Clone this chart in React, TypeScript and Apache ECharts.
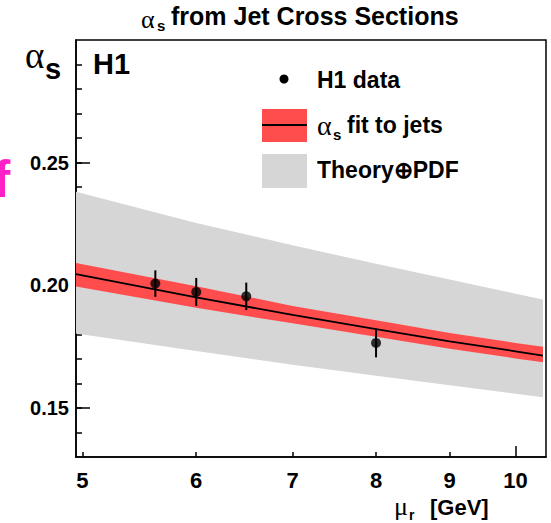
import React, { useEffect, useRef } from "react";
import * as echarts from "echarts";

// H1 data points
const muData = [5.62, 6.0, 6.5, 8.0];
const alphaData = [0.2007, 0.1973, 0.1955, 0.1765];
const alphaErr = [0.0054, 0.0057, 0.0056, 0.0059];

// curves (read at several mu values)
const curveMu = [4.95, 6, 7, 8, 9, 10, 10.45];
const fitCentral = [0.2046, 0.1951, 0.1879, 0.1821, 0.1771, 0.1731, 0.1713];
const fitUpper = [0.2091, 0.1996, 0.1916, 0.1858, 0.1806, 0.1765, 0.1749];
const fitLower = [0.1995, 0.1908, 0.1845, 0.1790, 0.1741, 0.1702, 0.1686];
const theoryUpper = [0.2381, 0.2254, 0.2163, 0.2088, 0.2024, 0.1966, 0.1942];
const theoryLower = [0.1803, 0.1732, 0.1676, 0.1631, 0.1592, 0.1558, 0.1544];

// ticks
const xTickLabels = [5, 6, 7, 8, 9, 10];
const xMinorTicks = [5, 6, 7, 8, 9];
const xMajorTicks = [10];
const yTickLabels = [0.15, 0.2, 0.25];
const yMinorTicks = [0.14, 0.15, 0.16, 0.17, 0.18, 0.19, 0.2, 0.21, 0.22, 0.23, 0.24, 0.25, 0.26, 0.27, 0.28, 0.29];

const SANS = "Liberation Sans, Arial, Helvetica, sans-serif";
const SERIF = "Liberation Serif, DejaVu Serif, serif";
const RED = "#ff4d4d";
const GRAY = "#d6d6d6";

function bandRenderer(upper: number[], lower: number[], color: string) {
  return (params: any, api: any) => {
    if (params.dataIndex !== 0) return null;
    const pts: number[][] = [];
    for (let i = 0; i < curveMu.length; i++) pts.push(api.coord([curveMu[i], upper[i]]));
    for (let i = curveMu.length - 1; i >= 0; i--) pts.push(api.coord([curveMu[i], lower[i]]));
    return { type: "polygon", shape: { points: pts }, style: { fill: color }, silent: true };
  };
}

export default function App() {
  const ref = useRef<HTMLDivElement>(null);
  useEffect(() => {
    document.body.style.margin = "0";
    const chart = echarts.init(ref.current!, null, { renderer: "svg" });
    const xBase = { type: "log", logBase: 10, min: 4.95, max: 10.5, gridIndex: 0, position: "bottom", splitLine: { show: false } };
    const yBase = { type: "value", min: 0.13, max: 0.3, gridIndex: 0, position: "left", splitLine: { show: false } };
    const option: any = {
      animation: false,
      backgroundColor: "#fff",
      grid: { left: 76, right: 5, top: 40, bottom: 66, show: true, borderColor: "#000", borderWidth: 1.5, backgroundColor: "transparent" },
      xAxis: [
        {
          ...xBase,
          axisLine: { show: true, lineStyle: { color: "#000", width: 1.5 } },
          axisTick: { show: true, inside: true, length: 5, customValues: xMinorTicks, lineStyle: { color: "#000", width: 1.5 } },
          axisLabel: {
            show: true, customValues: xTickLabels, margin: 12, color: "#000", fontSize: 22, fontWeight: "bold", fontFamily: SANS,
            formatter: (v: number) => String(Math.round(v)),
          },
        },
        {
          ...xBase,
          axisLine: { show: false },
          axisTick: { show: true, inside: true, length: 11, customValues: xMajorTicks, lineStyle: { color: "#000", width: 1.5 } },
          axisLabel: { show: false },
        },
      ],
      yAxis: [
        {
          ...yBase,
          axisLine: { show: true, lineStyle: { color: "#000", width: 1.5 } },
          axisTick: { show: true, inside: true, length: 14, customValues: yTickLabels, lineStyle: { color: "#000", width: 1.5 } },
          axisLabel: {
            show: true, customValues: yTickLabels, margin: 7, color: "#000", fontSize: 20, fontWeight: "bold", fontFamily: SANS,
            padding: [6, 0, 0, 0],
            formatter: (v: number) => v.toFixed(2),
          },
        },
        {
          ...yBase,
          axisLine: { show: false },
          axisTick: { show: true, inside: true, length: 6, customValues: yMinorTicks, lineStyle: { color: "#000", width: 1.5 } },
          axisLabel: { show: false },
        },
      ],
      series: [
        {
          name: "Theory⊕PDF",
          type: "custom",
          xAxisIndex: 0,
          yAxisIndex: 0,
          z: 1,
          data: curveMu.map((m, i) => [m, theoryUpper[i], theoryLower[i]]),
          encode: { x: 0, y: [1, 2] },
          renderItem: bandRenderer(theoryUpper, theoryLower, GRAY),
        },
        {
          name: "αs fit band",
          type: "custom",
          xAxisIndex: 0,
          yAxisIndex: 0,
          z: 2,
          data: curveMu.map((m, i) => [m, fitUpper[i], fitLower[i]]),
          encode: { x: 0, y: [1, 2] },
          renderItem: bandRenderer(fitUpper, fitLower, RED),
        },
        {
          name: "αs fit to jets",
          type: "line",
          xAxisIndex: 0,
          yAxisIndex: 0,
          z: 3,
          smooth: false,
          symbol: "none",
          lineStyle: { color: "#000", width: 1.8 },
          data: curveMu.map((m, i) => [m, fitCentral[i]]),
        },
        {
          name: "H1 data errors",
          type: "custom",
          xAxisIndex: 0,
          yAxisIndex: 0,
          z: 4,
          data: muData.map((m, i) => [m, alphaData[i], alphaErr[i]]),
          encode: { x: 0, y: 1 },
          renderItem: (params: any, api: any) => {
            const x = api.value(0);
            const y = api.value(1);
            const e = api.value(2);
            const p1 = api.coord([x, y + e]);
            const p2 = api.coord([x, y - e]);
            return { type: "line", shape: { x1: p1[0], y1: p1[1], x2: p2[0], y2: p2[1] }, style: { stroke: "#000", lineWidth: 2 } };
          },
        },
        {
          name: "H1 data",
          type: "scatter",
          xAxisIndex: 0,
          yAxisIndex: 0,
          z: 5,
          symbol: "circle",
          symbolSize: 10,
          itemStyle: { color: "#000" },
          data: muData.map((m, i) => [m, alphaData[i]]),
        },
      ],
      graphic: [
        // cropped magenta letter at left edge
        { type: "text", x: -7, y: 179, z: 10, style: { text: "f", fontSize: 52, fontWeight: "bold", fontFamily: SANS, fill: "#ff20c8", verticalAlign: "middle" } },
        // title
        { type: "text", x: 141, y: 19, style: { text: "α", fontSize: 26, fontFamily: SERIF, fill: "#000", verticalAlign: "middle" } },
        { type: "text", x: 157, y: 25, style: { text: "s", fontSize: 15, fontWeight: "bold", fontFamily: SANS, fill: "#000", verticalAlign: "middle" } },
        { type: "text", x: 171, y: 16, style: { text: "from Jet Cross Sections", fontSize: 25, fontWeight: "bold", fontFamily: SANS, fill: "#000", verticalAlign: "middle" } },
        // y axis title
        { type: "text", x: 25, y: 55, style: { text: "α", fontSize: 37, fontFamily: SERIF, fill: "#000", verticalAlign: "middle" } },
        { type: "text", x: 45, y: 69, style: { text: "s", fontSize: 29, fontWeight: "bold", fontFamily: SANS, fill: "#000", verticalAlign: "middle" } },
        // H1 label
        { type: "text", x: 93, y: 64, style: { text: "H1", fontSize: 29, fontWeight: "bold", fontFamily: SANS, fill: "#000", verticalAlign: "middle" } },
        // x axis title
        { type: "text", x: 394, y: 506, style: { text: "μ", fontSize: 26, fontFamily: SERIF, fill: "#000", verticalAlign: "middle" } },
        { type: "text", x: 409, y: 515, style: { text: "r", fontSize: 14, fontWeight: "bold", fontFamily: SANS, fill: "#000", verticalAlign: "middle" } },
        { type: "text", x: 430, y: 507, style: { text: "[GeV]", fontSize: 22, fontWeight: "bold", fontFamily: SANS, fill: "#000", verticalAlign: "middle" } },
        // legend
        { type: "circle", shape: { cx: 284, cy: 79, r: 4.5 }, style: { fill: "#000" } },
        { type: "text", x: 317, y: 80, style: { text: "H1 data", fontSize: 23, fontWeight: "bold", fontFamily: SANS, fill: "#000", verticalAlign: "middle" } },
        { type: "rect", shape: { x: 262, y: 109, width: 45, height: 33 }, style: { fill: RED } },
        { type: "line", shape: { x1: 262, y1: 125, x2: 307, y2: 125 }, style: { stroke: "#000", lineWidth: 2 } },
        { type: "text", x: 317, y: 125, style: { text: "α", fontSize: 28, fontFamily: SERIF, fill: "#000", verticalAlign: "middle" } },
        { type: "text", x: 333, y: 134, style: { text: "s", fontSize: 15, fontWeight: "bold", fontFamily: SANS, fill: "#000", verticalAlign: "middle" } },
        { type: "text", x: 347, y: 125, style: { text: "fit to jets", fontSize: 23, fontWeight: "bold", fontFamily: SANS, fill: "#000", verticalAlign: "middle" } },
        { type: "rect", shape: { x: 262, y: 154, width: 45, height: 34 }, style: { fill: GRAY } },
        { type: "text", x: 317, y: 170, style: { text: "Theory⊕PDF", fontSize: 23, fontWeight: "bold", fontFamily: SANS, fill: "#000", verticalAlign: "middle" } },
      ],
    };
    chart.setOption(option);
    return () => chart.dispose();
  }, []);
  return <div ref={ref} style={{ width: 551, height: 523 }} />;
}
